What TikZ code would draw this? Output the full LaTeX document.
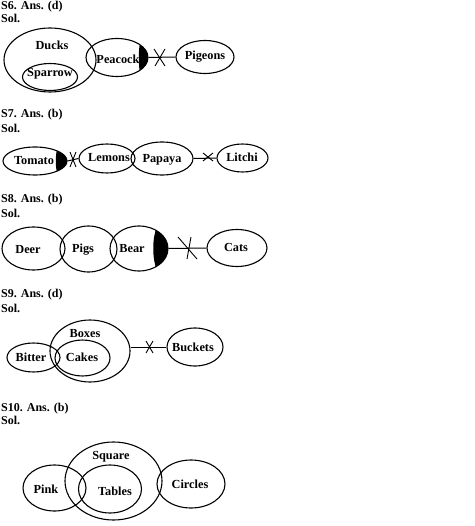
\documentclass[tikz,border=0pt]{standalone}
\usepackage{fontspec}
\setmainfont{Liberation Serif}
\usetikzlibrary{shapes.geometric}
\begin{document}
\begin{tikzpicture}[x=1pt,y=-1pt,
  ell/.style={draw, ellipse, line width=1.1pt, inner sep=0pt},
  lbl/.style={font=\bfseries\fontsize{12.3}{14}\selectfont, inner sep=0pt},
  head/.style={font=\bfseries\fontsize{12}{14}\selectfont, inner sep=0pt, anchor=west},
  conn/.style={line width=1pt},
  crs/.style={line width=0.9pt}]
\useasboundingbox (0,0) rectangle (474,526);
% ---------- S6
\node[head] (h6) at (1,7) {S6. Ans. (d)};
\node[head] (s6) at (1,18.5) {Sol.};
\node[ell, minimum width=92pt, minimum height=64pt] (ducks) at (50,60) {};
\node[ell, minimum width=55pt, minimum height=27pt] (sparrow) at (50,77) {};
\node[ell, minimum width=62pt, minimum height=38pt] (peacock) at (117,57.5) {};
\node[ell, minimum width=58pt, minimum height=33pt] (pigeons) at (205,57) {};
\begin{scope}
  \clip (117,57.5) ellipse (31pt and 19pt);
  \fill (141,37) .. controls (138,50) and (138,66) .. (141,78) -- (152,78) -- (152,37) -- cycle;
\end{scope}
\node[lbl] (tducks) at (52,45) {Ducks};
\node[lbl] (tsparrow) at (50,74) {Sparrow};
\node[lbl] (tpeacock) at (118,59) {Peacock};
\node[lbl] (tpigeons) at (205,57) {Pigeons};
\draw[conn] (peacock.east) -- (pigeons.west);
\draw[crs] (154,49) -- (165,66) (165,49) -- (155,66);
% ---------- S7
\node[head] (h7) at (1,115) {S7. Ans. (b)};
\node[head] (s7) at (1,128) {Sol.};
\node[ell, minimum width=64pt, minimum height=28pt] (tomato) at (35,161) {};
\node[ell, minimum width=56pt, minimum height=29pt] (lemons) at (107,158.5) {};
\node[ell, minimum width=62pt, minimum height=33pt] (papaya) at (162,158.5) {};
\node[ell, minimum width=51pt, minimum height=28pt] (litchi) at (242.5,158) {};
\begin{scope}
  \clip (35,161) ellipse (32pt and 14pt);
  \fill (58,146) .. controls (55,154) and (55,168) .. (58,176) -- (70,176) -- (70,146) -- cycle;
\end{scope}
\node[lbl] (ttomato) at (34,161) {Tomato};
\node[lbl] (tlemons) at (109,158) {Lemons};
\node[lbl] (tpapaya) at (162,160) {Papaya};
\node[lbl] (tlitchi) at (242,157) {Litchi};
\draw[conn] (tomato.east) -- (lemons.west);
\draw[conn] (papaya.east) -- (litchi.west);
\draw[crs] (70,152) -- (76,167) (76,152) -- (70,167);
\draw[crs] (203,153) -- (213,161) (213,153) -- (203,161);
% ---------- S8
\node[head] (h8) at (1,200) {S8. Ans. (b)};
\node[head] (s8) at (1,213) {Sol.};
\node[ell, minimum width=63pt, minimum height=43pt] (deer) at (33.5,248.5) {};
\node[ell, minimum width=57pt, minimum height=46pt] (pigs) at (88.5,249) {};
\node[ell, minimum width=58pt, minimum height=45pt] (bear) at (139,248.5) {};
\node[ell, minimum width=60pt, minimum height=37pt] (cats) at (237,248) {};
\begin{scope}
  \clip (139,248.5) ellipse (29pt and 22.5pt);
  \fill (157,226) .. controls (152,239) and (152,258) .. (157,271) -- (172,271) -- (172,226) -- cycle;
\end{scope}
\node[lbl] (tdeer) at (28,250) {Deer};
\node[lbl] (tpigs) at (83,250) {Pigs};
\node[lbl] (tbear) at (132,249) {Bear};
\node[lbl] (tcats) at (236,247) {Cats};
\draw[conn] (bear.east) -- (cats.west);
\draw[crs] (178,237) -- (197,259) (191,237) -- (187,259);
% ---------- S9
\node[head] (h9) at (1,295) {S9. Ans. (d)};
\node[head] (s9) at (1,308) {Sol.};
\node[ell, minimum width=80pt, minimum height=62pt] (boxes) at (90,351) {};
\node[ell, minimum width=55pt, minimum height=36pt] (cakes) at (82.5,358) {};
\node[ell, minimum width=53pt, minimum height=29pt] (bitter) at (33.5,357.5) {};
\node[ell, minimum width=56pt, minimum height=38pt] (buckets) at (195,347) {};
\node[lbl] (tboxes) at (85,334) {Boxes};
\node[lbl] (tcakes) at (82,357) {Cakes};
\node[lbl] (tbitter) at (31,357) {Bitter};
\node[lbl] (tbuckets) at (193,347) {Buckets};
\draw[conn] (buckets.west) -- (buckets.west -| boxes.east);
\draw[crs] (146,341) -- (153,353) (153,341) -- (146,353);
% ---------- S10
\node[head] (h10) at (1,409) {S10. Ans. (b)};
\node[head] (s10) at (1,420) {Sol.};
\node[ell, minimum width=97pt, minimum height=78pt] (square) at (113.5,481) {};
\node[ell, minimum width=63pt, minimum height=48pt] (tables) at (110,489) {};
\node[ell, minimum width=63pt, minimum height=46pt] (pink) at (54.5,488) {};
\node[ell, minimum width=68pt, minimum height=48pt] (circles) at (191,484) {};
\node[lbl] (tsquare) at (111,457) {Square};
\node[lbl] (ttables) at (115,491) {Tables};
\node[lbl] (tpink) at (46,489) {Pink};
\node[lbl] (tcircles) at (190,484) {Circles};
\end{tikzpicture}
\end{document}
